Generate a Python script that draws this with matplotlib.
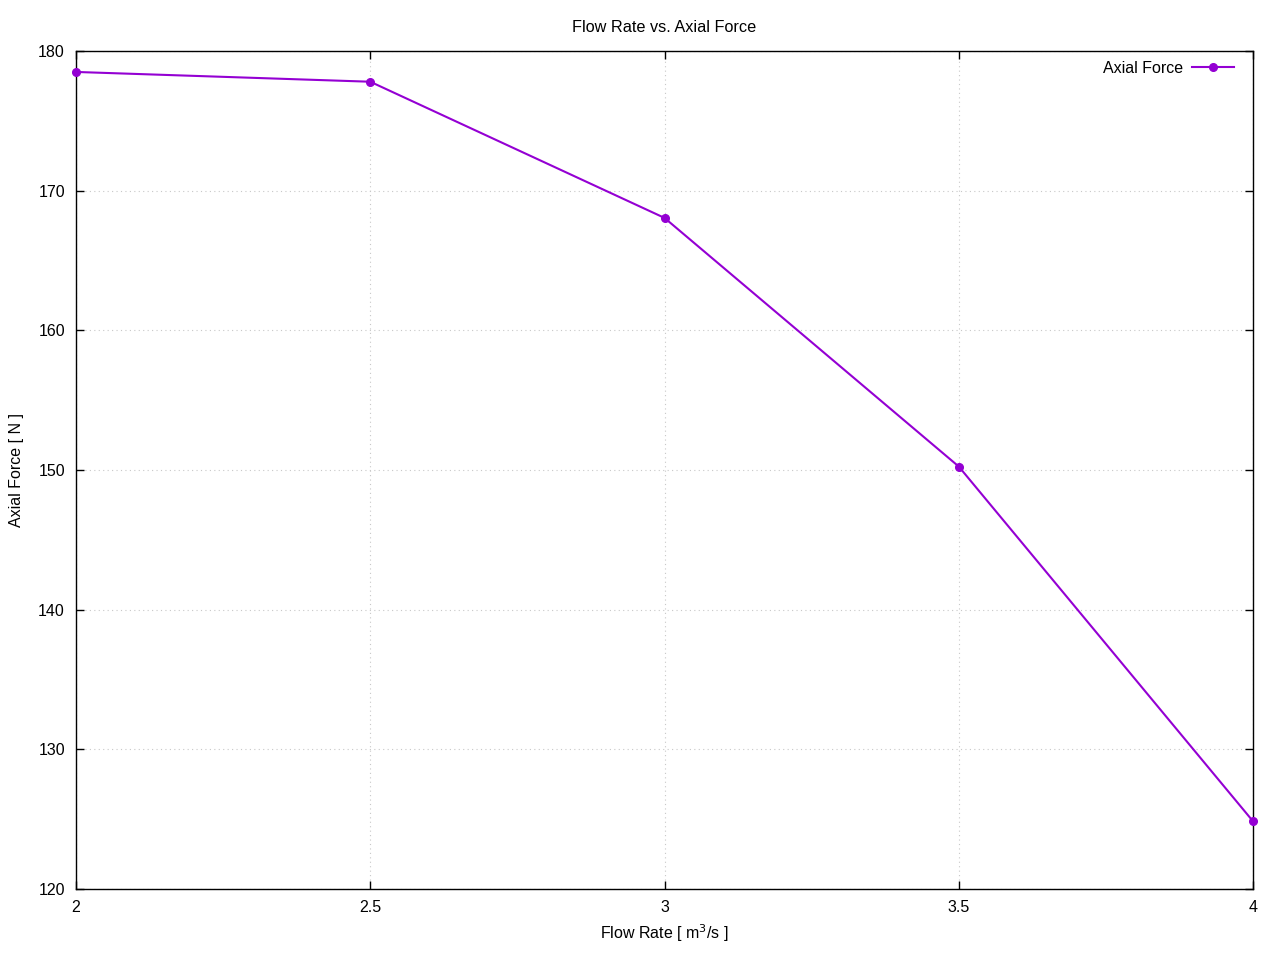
import matplotlib

matplotlib.use("Agg")
import matplotlib.pyplot as plt

plt.rcParams["font.family"] = ["Liberation Sans", "DejaVu Sans"]

flow_rate = [2.0, 2.5, 3.0, 3.5, 4.0]
axial_force = [178.5, 177.8, 168.05, 150.25, 124.85]
x_ticks = [2, 2.5, 3, 3.5, 4]
x_tick_labels = ["2", "2.5", "3", "3.5", "4"]
y_ticks = [120, 130, 140, 150, 160, 170, 180]

fig = plt.figure(figsize=(12.8, 9.6), dpi=100)
ax = fig.add_axes([76 / 1280, 1 - 889 / 960, (1253 - 76) / 1280, (889 - 51) / 960])

ax.plot(flow_rate, axial_force, color="#9400D3", lw=1.5, marker="o", ms=5.5,
        label="Axial Force", clip_on=False, zorder=3)

ax.set_xlim(2, 4)
ax.set_ylim(120, 180)
ax.set_xticks(x_ticks)
ax.set_xticklabels(x_tick_labels)
ax.set_yticks(y_ticks)
ax.tick_params(direction="in", top=True, right=True, length=6, width=1,
               labelsize=11.5, pad=8, colors="black")
for sp in ax.spines.values():
    sp.set_linewidth(1.0)
ax.grid(True, color="#c8c8c8", ls=(0, (1, 3)), lw=0.8)

ax.set_title("Flow Rate vs. Axial Force", fontsize=11.7, pad=13.5)
ax.set_xlabel("Flow Rate [ m$^3$/s ]", fontsize=11.5, labelpad=5)
ax.set_ylabel("Axial Force [ N ]", fontsize=11.5, labelpad=10)

leg = ax.legend(loc="upper right", bbox_to_anchor=(1 - 8 / 1177, 1.0016),
                frameon=False, fontsize=11.5, markerfirst=False,
                handlelength=2.6, borderaxespad=0.3, handletextpad=0.6)

fig.savefig("out.png", dpi=100)
